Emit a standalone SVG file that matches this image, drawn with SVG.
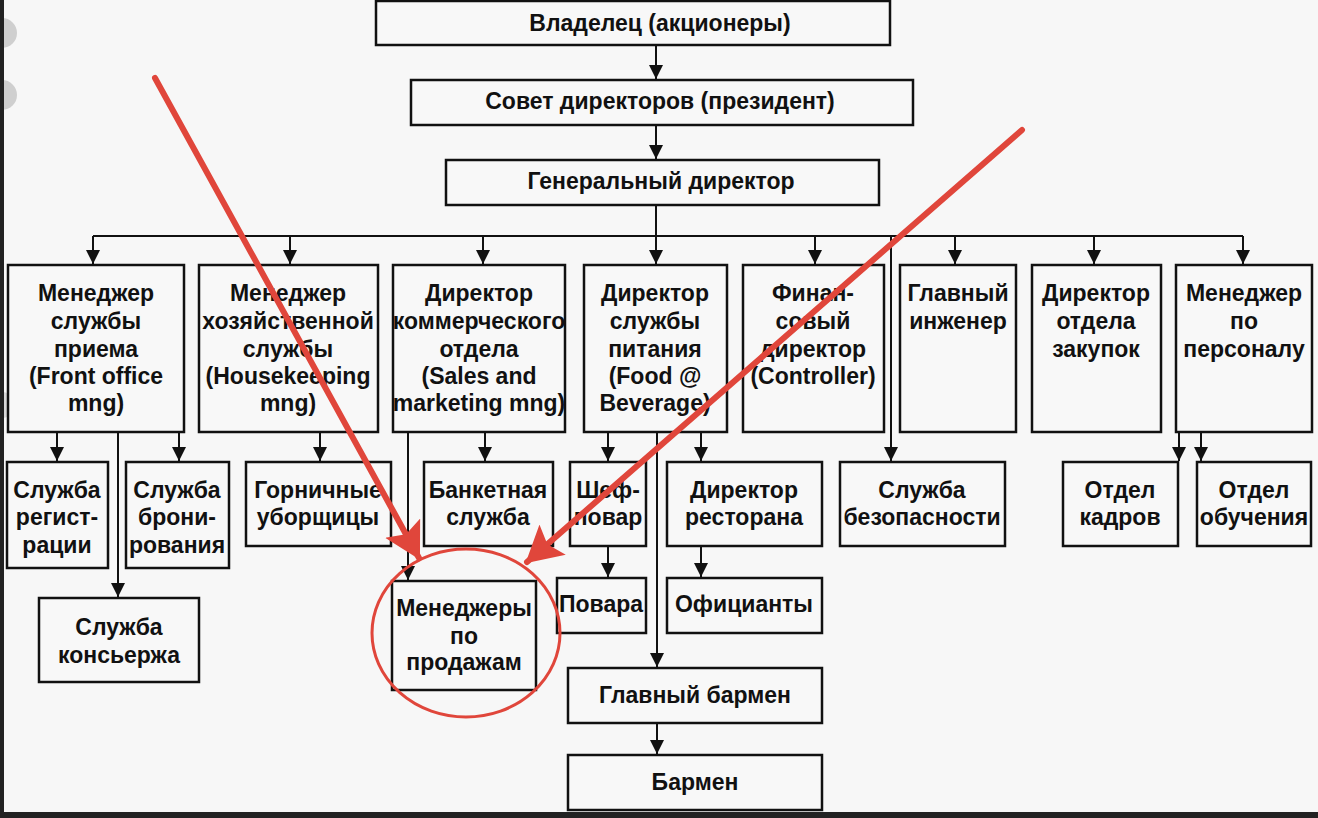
<svg xmlns="http://www.w3.org/2000/svg" width="1318" height="818" viewBox="0 0 1318 818">
<defs>
<style>
.bx{fill:#f8f8f8;stroke:#111;stroke-width:2.5}
.t{font-family:"Liberation Sans",Arial,sans-serif;font-size:23px;font-weight:bold;fill:#111;text-anchor:middle}
.c{fill:none;stroke:#111;stroke-width:2}
.r{fill:none;stroke:#e0463b;stroke-width:6;stroke-linecap:round}
</style>
<marker id="ah" markerUnits="userSpaceOnUse" markerWidth="14" markerHeight="16" viewBox="0 0 14 16" refX="14" refY="8" orient="auto">
<path d="M0,1 L14,8 L0,15 Z" fill="#111"/>
</marker>
<marker id="rh" markerUnits="userSpaceOnUse" markerWidth="36" markerHeight="40" viewBox="0 0 36 40" refX="34" refY="20" orient="auto">
<path d="M0,0 L36,20 L0,40 L7,20 Z" fill="#e0463b"/>
</marker>
</defs>
<rect x="0" y="0" width="1318" height="818" fill="#f7f7f7"/>
<rect x="0" y="812" width="1318" height="6" fill="#222"/>
<circle cx="2" cy="33" r="15" fill="#cfcfcf"/>
<circle cx="2" cy="95" r="15" fill="#cfcfcf"/>
<circle cx="2" cy="405" r="13" fill="#d8d8d8"/>
<rect x="0" y="0" width="4" height="818" fill="#222"/>

<g id="connectors">
<path class="c" d="M656,45 V79" marker-end="url(#ah)"/>
<path class="c" d="M656,125 V159" marker-end="url(#ah)"/>
<path class="c" d="M656,205 V264" marker-end="url(#ah)"/>
<path class="c" d="M93,236 H1243"/>
<path class="c" d="M93,236 V264" marker-end="url(#ah)"/>
<path class="c" d="M290,236 V264" marker-end="url(#ah)"/>
<path class="c" d="M483,236 V264" marker-end="url(#ah)"/>
<path class="c" d="M815,236 V264" marker-end="url(#ah)"/>
<path class="c" d="M955,236 V264" marker-end="url(#ah)"/>
<path class="c" d="M1094,236 V264" marker-end="url(#ah)"/>
<path class="c" d="M1243,236 V264" marker-end="url(#ah)"/>
<path class="c" d="M891,236 V461" marker-end="url(#ah)"/>
<path class="c" d="M57,432 V461" marker-end="url(#ah)"/>
<path class="c" d="M179,432 V461" marker-end="url(#ah)"/>
<path class="c" d="M118,432 V597" marker-end="url(#ah)"/>
<path class="c" d="M320,432 V461" marker-end="url(#ah)"/>
<path class="c" d="M408,432 V580" marker-end="url(#ah)"/>
<path class="c" d="M485,432 V461" marker-end="url(#ah)"/>
<path class="c" d="M608,432 V461" marker-end="url(#ah)"/>
<path class="c" d="M657,432 V667" marker-end="url(#ah)"/>
<path class="c" d="M701,432 V461" marker-end="url(#ah)"/>
<path class="c" d="M608,546 V577" marker-end="url(#ah)"/>
<path class="c" d="M701,546 V577" marker-end="url(#ah)"/>
<path class="c" d="M657,723 V754" marker-end="url(#ah)"/>
<path class="c" d="M1179,432 V461" marker-end="url(#ah)"/>
<path class="c" d="M1201,432 V461" marker-end="url(#ah)"/>
</g>

<g id="n-owner"><rect class="bx" x="376" y="1" width="514" height="44"/><text class="t" x="660" y="31">Владелец (акционеры)</text></g>
<g id="n-board"><rect class="bx" x="411" y="80" width="502" height="45"/><text class="t" x="660" y="109">Совет директоров (президент)</text></g>
<g id="n-gm"><rect class="bx" x="446" y="160" width="433" height="45"/><text class="t" x="661" y="189">Генеральный директор</text></g>

<g id="n-fo"><rect class="bx" x="8" y="265" width="176" height="167"/>
<text class="t" x="96" y="301">Менеджер</text><text class="t" x="96" y="329">службы</text><text class="t" x="96" y="357">приема</text><text class="t" x="96" y="384">(Front office</text><text class="t" x="96" y="411">mng)</text></g>
<g id="n-hk"><rect class="bx" x="199" y="265" width="179" height="167"/>
<text class="t" x="288" y="301">Менеджер</text><text class="t" x="288" y="329">хозяйственной</text><text class="t" x="288" y="357">службы</text><text class="t" x="288" y="384">(Housekeeping</text><text class="t" x="288" y="411">mng)</text></g>
<g id="n-sales"><rect class="bx" x="393" y="265" width="172" height="167"/>
<text class="t" x="479" y="301">Директор</text><text class="t" x="479" y="329">коммерческого</text><text class="t" x="479" y="357">отдела</text><text class="t" x="479" y="384">(Sales and</text><text class="t" x="479" y="411">marketing mng)</text></g>
<g id="n-fb"><rect class="bx" x="584" y="265" width="143" height="167"/>
<text class="t" x="655" y="301">Директор</text><text class="t" x="655" y="329">службы</text><text class="t" x="655" y="357">питания</text><text class="t" x="655" y="384">(Food @</text><text class="t" x="655" y="411">Beverage)</text></g>
<g id="n-fin"><rect class="bx" x="743" y="265" width="141" height="167"/>
<text class="t" x="813" y="301">Финан-</text><text class="t" x="813" y="329">совый</text><text class="t" x="813" y="357">директор</text><text class="t" x="813" y="384">(Controller)</text></g>
<g id="n-eng"><rect class="bx" x="900" y="265" width="116" height="167"/>
<text class="t" x="958" y="301">Главный</text><text class="t" x="958" y="329">инженер</text></g>
<g id="n-purch"><rect class="bx" x="1032" y="265" width="129" height="167"/>
<text class="t" x="1096" y="301">Директор</text><text class="t" x="1096" y="329">отдела</text><text class="t" x="1096" y="357">закупок</text></g>
<g id="n-hr"><rect class="bx" x="1176" y="265" width="136" height="167"/>
<text class="t" x="1244" y="301">Менеджер</text><text class="t" x="1244" y="329">по</text><text class="t" x="1244" y="357">персоналу</text></g>

<g id="n-reg"><rect class="bx" x="7" y="462" width="101" height="106"/>
<text class="t" x="57" y="498">Служба</text><text class="t" x="57" y="525">регист-</text><text class="t" x="57" y="553">рации</text></g>
<g id="n-book"><rect class="bx" x="126" y="462" width="103" height="106"/>
<text class="t" x="177" y="498">Служба</text><text class="t" x="177" y="525">брони-</text><text class="t" x="177" y="553">рования</text></g>
<g id="n-maids"><rect class="bx" x="246" y="462" width="145" height="84"/>
<text class="t" x="318" y="498">Горничные</text><text class="t" x="318" y="525">уборщицы</text></g>
<g id="n-banq"><rect class="bx" x="424" y="462" width="129" height="84"/>
<text class="t" x="488" y="498">Банкетная</text><text class="t" x="488" y="525">служба</text></g>
<g id="n-chef"><rect class="bx" x="570" y="462" width="76" height="84"/>
<text class="t" x="608" y="498">Шеф-</text><text class="t" x="608" y="525">повар</text></g>
<g id="n-rest"><rect class="bx" x="667" y="462" width="155" height="84"/>
<text class="t" x="744" y="498">Директор</text><text class="t" x="744" y="525">ресторана</text></g>
<g id="n-sec"><rect class="bx" x="840" y="462" width="165" height="84"/>
<text class="t" x="922" y="498">Служба</text><text class="t" x="922" y="525">безопасности</text></g>
<g id="n-staff"><rect class="bx" x="1063" y="462" width="115" height="84"/>
<text class="t" x="1120" y="498">Отдел</text><text class="t" x="1120" y="525">кадров</text></g>
<g id="n-train"><rect class="bx" x="1197" y="462" width="114" height="84"/>
<text class="t" x="1254" y="498">Отдел</text><text class="t" x="1254" y="525">обучения</text></g>

<g id="n-conc"><rect class="bx" x="39" y="598" width="160" height="84"/>
<text class="t" x="119" y="635">Служба</text><text class="t" x="119" y="663">консьержа</text></g>
<g id="n-salesmgr"><rect class="bx" x="392" y="581" width="144" height="109"/>
<text class="t" x="464" y="616">Менеджеры</text><text class="t" x="464" y="644">по</text><text class="t" x="464" y="670">продажам</text></g>
<g id="n-cooks"><rect class="bx" x="557" y="578" width="89" height="55"/>
<text class="t" x="601" y="612">Повара</text></g>
<g id="n-waiters"><rect class="bx" x="667" y="578" width="155" height="55"/>
<text class="t" x="744" y="612">Официанты</text></g>
<g id="n-headbar"><rect class="bx" x="568" y="668" width="254" height="55"/>
<text class="t" x="695" y="703">Главный бармен</text></g>
<g id="n-bar"><rect class="bx" x="568" y="755" width="254" height="55"/>
<text class="t" x="695" y="790">Бармен</text></g>

<g id="highlight">
<path class="r" d="M155,78 L419,558" marker-end="url(#rh)"/>
<path class="r" d="M1022,130 L527,562" marker-end="url(#rh)"/>
<ellipse cx="466" cy="633" rx="94" ry="84" fill="none" stroke="#e0463b" stroke-width="3"/>
</g>
</svg>
